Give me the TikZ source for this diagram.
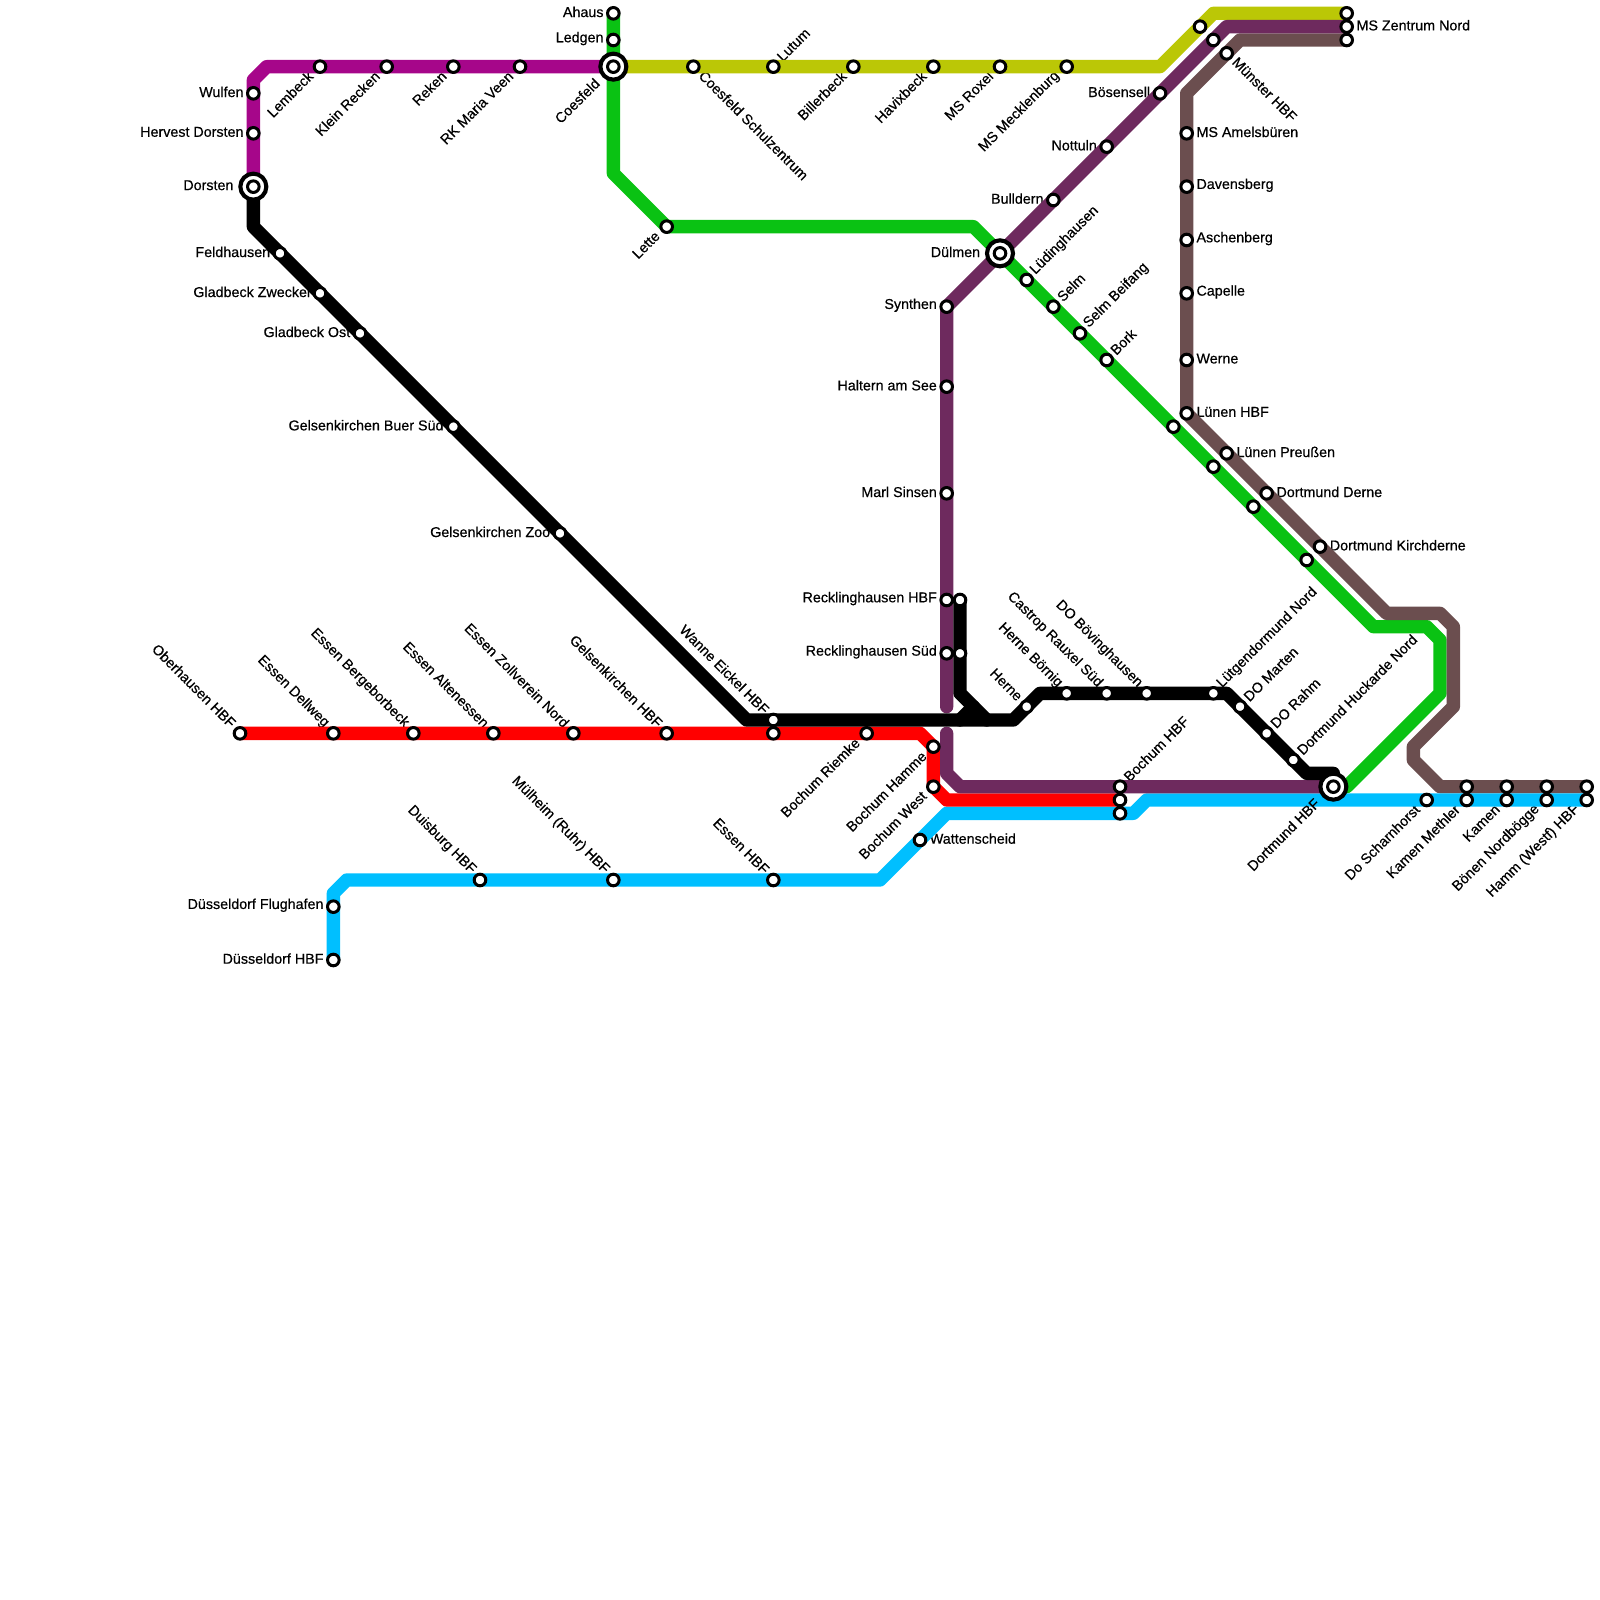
\documentclass[tikz,border=0pt]{standalone}
\usepackage{fontspec}
\setmainfont[RawFeature={embolden=0.5}]{Liberation Sans}
\definecolor{cMag}{HTML}{A6068A}
\definecolor{cPur}{HTML}{6E2A5E}
\definecolor{cGrn}{HTML}{0AC213}
\definecolor{cOli}{HTML}{BBC706}
\definecolor{cRed}{HTML}{FF0000}
\definecolor{cBlu}{HTML}{00BFFF}
\definecolor{cBrn}{HTML}{6B4E4F}
\pgfdeclarelayer{lab}
\pgfdeclarelayer{top}
\pgfsetlayers{lab,main,top}
\newcommand\stn[4]{%
  \begin{pgfonlayer}{top}\node[stat] (#1) at (#2) {};\end{pgfonlayer}%
  \begin{pgfonlayer}{lab}\node[lbl,#3] (l#1) at (#2) {#4};\end{pgfonlayer}}
\newcommand\sta[2]{%
  \begin{pgfonlayer}{top}\node[stat] (#1) at (#2) {};\end{pgfonlayer}}
\newcommand\hub[4]{%
  \begin{pgfonlayer}{top}\node[hubring] (r#1) at (#2) {};\node[stat] (#1) at (#2) {};\end{pgfonlayer}%
  \begin{pgfonlayer}{lab}\node[lbl,#3] (l#1) at (#2) {#4};\end{pgfonlayer}}
\tikzset{
  x=0.2cm,y=-0.2cm,
  stat/.style={circle,draw=black,fill=white,line width=1.28pt,minimum size=4.95pt,inner sep=0pt,outer sep=0pt},
  hubring/.style={circle,draw=black,fill=white,line width=1.75pt,minimum size=11.1pt,inner sep=0pt,outer sep=0pt},
  lbl/.style={inner sep=0pt,outer sep=0pt,font=\fontsize{6.1pt}{7pt}\selectfont,text=black},
  L/.style={anchor=east,xshift=-4.2pt,yshift=0.6pt},
  R/.style={anchor=west,xshift=4.2pt,yshift=0.6pt},
  HL/.style={anchor=east,xshift=-8.5pt,yshift=0.6pt},
  UL/.style={anchor=east,rotate=-45,xshift=-4.5pt,yshift=0.5pt},
  DL/.style={anchor=east,rotate=45,xshift=-5pt,yshift=0.7pt},
  HDL/.style={anchor=east,rotate=45,xshift=-9.2pt,yshift=0.6pt},
  UR/.style={anchor=west,rotate=45,xshift=4.2pt,yshift=0.5pt},
  DR/.style={anchor=west,rotate=-45,xshift=4.4pt,yshift=0.5pt},
  metro/.style={line width=0.2cm,line join=round,line cap=round},
}
\begin{document}
\begin{tikzpicture}
\useasboundingbox (0,0) rectangle (120,120);
% magenta
\stn{wulfen}{19,7}{L}{Wulfen}
\stn{hervest}{19,10}{L}{Hervest Dorsten}
\hub{dorsten}{19,14}{HL}{Dorsten}
\stn{lembeck}{24,5}{DL}{Lembeck}
\stn{kleinrecken}{29,5}{DL}{Klein Recken}
\stn{reken}{34,5}{DL}{Reken}
\stn{rkmaria}{39,5}{DL}{RK Maria Veen}
\hub{coesfeld}{46,5}{HDL}{Coesfeld}
% green
\stn{ahaus}{46,1}{L}{Ahaus}
\stn{ledgen}{46,3}{L}{Ledgen}
\stn{lette}{50,17}{DL}{Lette}
\hub{duelmen}{75,19}{HL}{Dülmen}
\stn{luedinghausen}{77,21}{UR}{Lüdinghausen}
\stn{selm}{79,23}{UR}{Selm}
\stn{selmb}{81,25}{UR}{Selm Beifang}
\stn{bork}{83,27}{UR}{Bork}
\sta{g1}{88,32}
\sta{g2}{91,35}
\sta{g3}{94,38}
\sta{g4}{98,42}
\begin{pgfonlayer}{top}
\node[hubring] (rdortmund) at (100,59) {};
\node[stat] (dortmund) at (100,59) {};
\node[lbl,HDL] (ldortmund) at (100,59) {Dortmund HBF};
\end{pgfonlayer}
% olive
\stn{schulz}{52,5}{DR}{Coesfeld Schulzentrum}
\stn{lutum}{58,5}{UR}{Lutum}
\stn{billerbeck}{64,5}{DL}{Billerbeck}
\stn{havixbeck}{70,5}{DL}{Havixbeck}
\stn{roxel}{75,5}{DL}{MS Roxel}
\stn{mecklenburg}{80,5}{DL}{MS Mecklenburg}
\sta{o1}{90,2}
\sta{zentrumo}{101,1}
% purple
\stn{zentrum}{101,2}{R}{MS Zentrum Nord}
\sta{p1}{91,3}
\stn{boesensell}{87,7}{L}{Bösensell}
\stn{nottuln}{83,11}{L}{Nottuln}
\stn{bulldern}{79,15}{L}{Bulldern}
\stn{synthen}{71,23}{L}{Synthen}
\stn{haltern}{71,29}{L}{Haltern am See}
\stn{marl}{71,37}{L}{Marl Sinsen}
\stn{reckhbf}{71,45}{L}{Recklinghausen HBF}
\stn{recksued}{71,49}{L}{Recklinghausen Süd}
\stn{bochump}{84,59}{UR}{Bochum HBF}
% brown
\sta{zentrumb}{101,3}
\stn{muenster}{92,4}{DR}{Münster HBF}
\stn{amels}{89,10}{R}{MS Amelsbüren}
\stn{davens}{89,14}{R}{Davensberg}
\stn{aschen}{89,18}{R}{Aschenberg}
\stn{capelle}{89,22}{R}{Capelle}
\stn{werne}{89,27}{R}{Werne}
\stn{luenen}{89,31}{R}{Lünen HBF}
\stn{preussen}{92,34}{R}{Lünen Preußen}
\stn{derne}{95,37}{R}{Dortmund Derne}
\stn{kirchderne}{99,41}{R}{Dortmund Kirchderne}
\sta{methlerb}{110,59}
\sta{kamenb}{113,59}
\sta{boenenb}{116,59}
\sta{hammb}{119,59}
% blue
\stn{dhbf}{25,72}{L}{Düsseldorf HBF}
\stn{dflug}{25,68}{L}{Düsseldorf Flughafen}
\stn{duisburg}{36,66}{UL}{Duisburg HBF}
\stn{muelheim}{46,66}{UL}{Mülheim (Ruhr) HBF}
\stn{essen}{58,66}{UL}{Essen HBF}
\stn{watten}{69,63}{R}{Wattenscheid}
\sta{bochumb}{84,61}
\stn{scharn}{107,60}{DL}{Do Scharnhorst}
\stn{methler}{110,60}{DL}{Kamen Methler}
\stn{kamen}{113,60}{DL}{Kamen}
\stn{boenen}{116,60}{DL}{Bönen Nordbögge}
\stn{hamm}{119,60}{DL}{Hamm (Westf) HBF}
% red
\stn{oberh}{18,55}{UL}{Oberhausen HBF}
\stn{dellweg}{25,55}{UL}{Essen Dellweg}
\stn{berge}{31,55}{UL}{Essen Bergeborbeck}
\stn{alten}{37,55}{UL}{Essen Altenessen}
\stn{zoll}{43,55}{UL}{Essen Zollverein Nord}
\stn{gehbf}{50,55}{UL}{Gelsenkirchen HBF}
\sta{wanner}{58,55}
\stn{riemke}{65,55}{DL}{Bochum Riemke}
\stn{hamme}{70,56}{DL}{Bochum Hamme}
\stn{west}{70,59}{DL}{Bochum West}
\sta{bochumr}{84,60}
% black
\stn{feld}{21,19}{L}{Feldhausen}
\stn{zweckel}{24,22}{L}{Gladbeck Zweckel}
\stn{ost}{27,25}{L}{Gladbeck Ost}
\stn{buer}{34,32}{L}{Gelsenkirchen Buer Süd}
\stn{zoo}{42,40}{L}{Gelsenkirchen Zoo}
\stn{wanne}{58,54}{UL}{Wanne Eickel HBF}
\stn{herne}{77,53}{UL}{Herne}
\stn{boernig}{80,52}{UL}{Herne Börnig}
\stn{castrop}{83,52}{UL}{Castrop Rauxel Süd}
\stn{boeving}{86,52}{UL}{DO Bövinghausen}
\stn{luetgen}{91,52}{UR}{Lütgendormund Nord}
\stn{marten}{93,53}{UR}{DO Marten}
\stn{rahm}{95,55}{UR}{DO Rahm}
\stn{huckarde}{97,57}{UR}{Dortmund Huckarde Nord}
\sta{reckhbfb}{72,45}
\sta{recksuedb}{72,49}
% corners
\coordinate (mA) at (20,5); \coordinate (mB) at (19,6);
\coordinate (gA) at (46,13); \coordinate (gB) at (73,17);
\coordinate (gC) at (103,47); \coordinate (gD) at (107,47); \coordinate (gE) at (108,48); \coordinate (gF) at (108,52); \coordinate (gG) at (101,59);
\coordinate (oA) at (87,5); \coordinate (oB) at (91,1);
\coordinate (pA) at (92,2); \coordinate (pB) at (71,53); \coordinate (pC) at (71,55); \coordinate (pD) at (71,58); \coordinate (pE) at (72,59);
\coordinate (bA) at (93,3); \coordinate (bB) at (89,7); \coordinate (bC) at (104,46); \coordinate (bD) at (108,46); \coordinate (bE) at (109,47); \coordinate (bF) at (109,53); \coordinate (bG) at (106,56); \coordinate (bH) at (106,57); \coordinate (bI) at (108,59);
\coordinate (cA) at (25,67); \coordinate (cB) at (26,66); \coordinate (cC) at (66,66); \coordinate (cD) at (71,61); \coordinate (cE) at (85,61); \coordinate (cF) at (86,60);
\coordinate (rA) at (69,55); \coordinate (rB) at (71,60);
\coordinate (kA) at (19,17); \coordinate (kB) at (56,54); \coordinate (kC) at (76,54); \coordinate (kD) at (78,52); \coordinate (kE) at (92,52); \coordinate (kF) at (98,58); \coordinate (kG) at (100,58);
\coordinate (kH) at (72,52); \coordinate (kI) at (74,54); \coordinate (kJ) at (72,54); \coordinate (kK) at (73,53);
% lines
\draw[metro,cMag] (coesfeld.center) -- (rkmaria.center) -- (reken.center) -- (kleinrecken.center) -- (lembeck.center) -- (mA) -- (mB) -- (wulfen.center) -- (hervest.center) -- (dorsten.center);
\draw[metro,cGrn] (ahaus.center) -- (ledgen.center) -- (coesfeld.center) -- (gA) -- (lette.center) -- (gB) -- (duelmen.center) -- (luedinghausen.center) -- (selm.center) -- (selmb.center) -- (bork.center) -- (g1.center) -- (g2.center) -- (g3.center) -- (g4.center) -- (gC) -- (gD) -- (gE) -- (gF) -- (gG) -- (dortmund.center);
\draw[metro,cOli] (coesfeld.center) -- (schulz.center) -- (lutum.center) -- (billerbeck.center) -- (havixbeck.center) -- (roxel.center) -- (mecklenburg.center) -- (oA) -- (o1.center) -- (oB) -- (zentrumo.center);
\draw[metro,cBrn] (zentrumb.center) -- (bA) -- (muenster.center) -- (bB) -- (amels.center) -- (davens.center) -- (aschen.center) -- (capelle.center) -- (werne.center) -- (luenen.center) -- (preussen.center) -- (derne.center) -- (kirchderne.center) -- (bC) -- (bD) -- (bE) -- (bF) -- (bG) -- (bH) -- (bI) -- (methlerb.center) -- (kamenb.center) -- (boenenb.center) -- (hammb.center);
\draw[metro,cBlu] (dhbf.center) -- (dflug.center) -- (cA) -- (cB) -- (duisburg.center) -- (muelheim.center) -- (essen.center) -- (cC) -- (watten.center) -- (cD) -- (bochumb.center) -- (cE) -- (cF) -- (scharn.center) -- (methler.center) -- (kamen.center) -- (boenen.center) -- (hamm.center);
\draw[metro,cRed] (oberh.center) -- (dellweg.center) -- (berge.center) -- (alten.center) -- (zoll.center) -- (gehbf.center) -- (wanner.center) -- (riemke.center) -- (rA) -- (hamme.center) -- (west.center) -- (rB) -- (bochumr.center);
\draw[metro,cPur] (zentrum.center) -- (pA) -- (p1.center) -- (boesensell.center) -- (nottuln.center) -- (bulldern.center) -- (duelmen.center) -- (synthen.center) -- (haltern.center) -- (marl.center) -- (reckhbf.center) -- (recksued.center) -- (pB);
\draw[metro,cPur] (pC) -- (pD) -- (pE) -- (bochump.center) -- (dortmund.center);
\draw[metro,black] (dorsten.center) -- (kA) -- (feld.center) -- (zweckel.center) -- (ost.center) -- (buer.center) -- (zoo.center) -- (kB) -- (wanne.center) -- (kC) -- (herne.center) -- (kD) -- (boernig.center) -- (castrop.center) -- (boeving.center) -- (luetgen.center) -- (kE) -- (marten.center) -- (rahm.center) -- (huckarde.center) -- (kF) -- (kG) -- (dortmund.center);
\draw[metro,black] (reckhbfb.center) -- (recksuedb.center) -- (kH) -- (kI);
\draw[metro,black] (kJ) -- (kK);
\end{tikzpicture}
\end{document}
